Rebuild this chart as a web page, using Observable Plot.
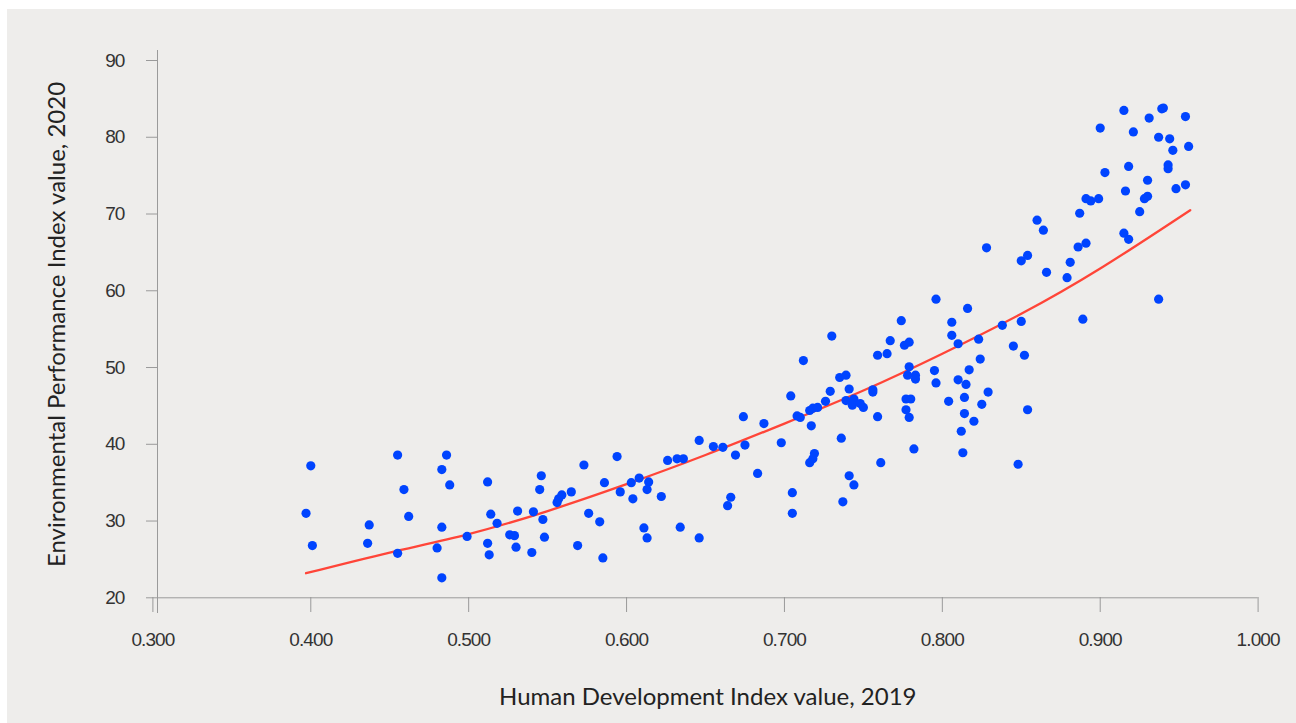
<!DOCTYPE html>
<html><head><meta charset="utf-8">
<script src="https://cdn.jsdelivr.net/npm/d3@7"></script>
<script src="https://cdn.jsdelivr.net/npm/@observablehq/plot@0.6"></script>
<style>
html,body{margin:0;padding:0;background:#fff;}
#panel{position:absolute;left:7px;top:9px;width:1289px;height:714px;background:#eeedeb;}
#chart{position:absolute;left:0;top:0;}
</style></head><body>
<div id="panel"></div><div id="chart"></div>
<script>
const hdi = [
0.400,0.397,0.401,0.455,0.459,0.462,0.437,0.436,0.455,0.486,
0.483,0.488,0.483,0.480,0.483,0.499,0.512,0.514,0.518,0.512,
0.513,0.526,0.529,0.530,0.531,0.541,0.540,0.546,0.545,0.547,
0.548,0.556,0.557,0.559,0.565,0.573,0.576,0.583,0.569,0.585,
0.586,0.594,0.596,0.603,0.608,0.614,0.613,0.604,0.622,0.611,
0.613,0.634,0.626,0.632,0.636,0.646,0.646,
0.655,0.661,0.669,0.674,0.675,0.687,0.683,0.698,0.704,0.708,
0.710,0.717,0.712,0.716,0.718,0.721,0.726,0.729,0.730,0.735,
0.739,0.741,0.739,0.743,0.744,0.748,0.750,0.736,0.719,0.718,
0.716,0.666,0.664,0.705,0.705,0.741,0.744,0.737,0.761,0.759,
0.756,0.756,0.759,0.765,0.767,0.774,0.776,0.779,0.779,0.778,
0.783,0.783,0.777,0.780,0.777,0.779,0.782,0.796,0.795,0.796,
0.804,0.806,0.806,0.810,0.816,0.810,0.815,0.817,0.814,0.814,
0.812,0.813,0.820,0.825,0.829,0.824,0.823,0.838,0.850,0.845,
0.852,0.854,0.848,0.889,
0.828,0.850,0.854,0.860,0.864,0.866,0.879,0.881,0.886,0.891,
0.887,0.891,0.894,0.899,0.903,0.900,0.915,0.921,0.918,0.916,
0.915,0.918,0.925,0.928,0.930,0.930,0.931,0.939,0.940,0.937,
0.944,0.946,0.943,0.943,0.948,0.954,0.954,0.956,0.937
];
const epi = [
37.2,31.0,26.8,38.6,34.1,30.6,29.5,27.1,25.8,38.6,
36.7,34.7,29.2,26.5,22.6,28.0,35.1,30.9,29.7,27.1,
25.6,28.2,28.1,26.6,31.3,31.2,25.9,35.9,34.1,30.2,
27.9,32.4,32.9,33.4,33.8,37.3,31.0,29.9,26.8,25.2,
35.0,38.4,33.8,35.0,35.6,35.1,34.1,32.9,33.2,29.1,
27.8,29.2,37.9,38.1,38.1,40.5,27.8,
39.7,39.6,38.6,43.6,39.9,42.7,36.2,40.2,46.3,43.7,
43.5,42.4,50.9,44.4,44.7,44.8,45.6,46.9,54.1,48.7,
49.0,47.2,45.7,45.1,45.9,45.3,44.8,40.8,38.8,38.1,
37.6,33.1,32.0,33.7,31.0,35.9,34.7,32.5,37.6,43.6,
47.1,46.8,51.6,51.8,53.5,56.1,52.9,53.3,50.1,49.0,
49.0,48.5,45.9,45.9,44.5,43.5,39.4,58.9,49.6,48.0,
45.6,55.9,54.2,53.1,57.7,48.4,47.8,49.7,46.1,44.0,
41.7,38.9,43.0,45.2,46.8,51.1,53.7,55.5,56.0,52.8,
51.6,44.5,37.4,56.3,
65.6,63.9,64.6,69.2,67.9,62.4,61.7,63.7,65.7,66.2,
70.1,72.0,71.7,72.0,75.4,81.2,83.5,80.7,76.2,73.0,
67.5,66.7,70.3,72.0,72.3,74.4,82.5,83.7,83.8,80.0,
79.8,78.3,76.4,75.9,73.3,73.8,82.7,78.8,58.9
];
const trendHdi = [0.397,0.45,0.5,0.55,0.6,0.65,0.7,0.75,0.8,0.85,0.9,0.957];
const trendEpi = [23.2,25.9,28.3,31.3,34.8,38.6,42.7,47.0,51.8,57.0,62.9,70.5];
const xTicks = [0.3,0.4,0.5,0.6,0.7,0.8,0.9,1.0];
const yTicks = [20,30,40,50,60,70,80,90];
const xTitle = "Human Development Index value, 2019";
const yTitle = "Environmental Performance Index value, 2020";

const points = hdi.map((h,i)=>({hdi:h, epi:epi[i]}));
const trend = trendHdi.map((h,i)=>({hdi:h, epi:trendEpi[i]}));

const tickFont = "'Liberation Sans',Arial,sans-serif";
const titleFont = "Lato,'Open Sans',sans-serif";
const axisGray = "#9a9a9a";

const plot = Plot.plot({
  width:1296, height:723,
  marginLeft:157, marginRight:38.4, marginTop:50, marginBottom:111,
  style:{background:"transparent", overflow:"visible"},
  x:{domain:[0.3,1.0], range:[152.4,1257.6]},
  y:{domain:[20,90], range:[597.3,60]},
  marks:[
    Plot.frame({anchor:"left", stroke:axisGray, strokeOpacity:1}),
    Plot.ruleY([20], {stroke:axisGray, strokeWidth:1}),
    Plot.axisY({ticks:yTicks, tickSize:11, tickPadding:22, stroke:axisGray, strokeOpacity:1, fill:"#333", fontSize:19, fontFamily:tickFont, label:null}),
    Plot.axisX({ticks:xTicks, tickSize:15, tickPadding:20, dy:-15, tickFormat:d3.format(".3f"), stroke:axisGray, strokeOpacity:1, fill:"#333", fontSize:19, fontFamily:tickFont, label:null}),
    Plot.line(trend, {x:"hdi", y:"epi", curve:"natural", stroke:"#ff4538", strokeWidth:2.3}),
    Plot.dot(points, {x:"hdi", y:"epi", r:4.6, fill:"#0044ff"}),
    Plot.text([xTitle], {frameAnchor:"bottom", textAnchor:"middle", lineAnchor:"middle", dy:85, fontSize:24, fontFamily:titleFont, fill:"#222"}),
    Plot.text([yTitle], {frameAnchor:"left", textAnchor:"middle", lineAnchor:"middle", rotate:-90, dx:-100, dy:-7, fontSize:24, fontFamily:titleFont, fill:"#222"})
  ]
});
d3.select(plot).selectAll('g[aria-label="x-axis tick label"] text, g[aria-label="y-axis tick label"] text')
  .style("letter-spacing", "-0.9px");
document.getElementById("chart").appendChild(plot);
</script>
</body></html>
